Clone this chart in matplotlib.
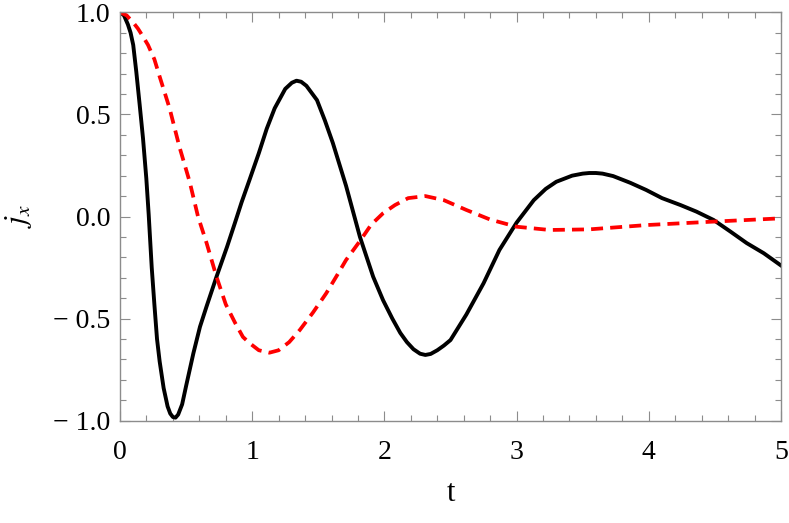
import matplotlib
matplotlib.use("Agg")
import matplotlib.pyplot as plt
from matplotlib.ticker import MultipleLocator, FuncFormatter

# black solid curve
t_black = [0, 0.03, 0.06, 0.08, 0.10, 0.123, 0.149, 0.174, 0.199, 0.217, 0.24, 0.26, 0.28,
           0.30, 0.33, 0.36, 0.38, 0.40, 0.42, 0.44, 0.47, 0.50, 0.555, 0.605, 0.655, 0.73,
           0.81, 0.87, 0.92, 0.98, 1.05, 1.11, 1.17, 1.25, 1.30, 1.335, 1.37, 1.41, 1.45,
           1.49, 1.55, 1.61, 1.71, 1.815, 1.915, 1.99, 2.06, 2.12, 2.17, 2.22, 2.27, 2.31,
           2.35, 2.40, 2.45, 2.5, 2.62, 2.75, 2.87, 3.0, 3.13, 3.22, 3.30, 3.42, 3.50, 3.55,
           3.60, 3.65, 3.73, 3.86, 3.98, 4.10, 4.24, 4.36, 4.49, 4.62, 4.74, 4.87, 5.0]
j_black = [1.0, 0.985, 0.94, 0.90, 0.84, 0.71, 0.546, 0.383, 0.187, 0.01, -0.25, -0.43, -0.60,
           -0.71, -0.84, -0.93, -0.965, -0.982, -0.985, -0.97, -0.92, -0.83, -0.67, -0.54,
           -0.44, -0.295, -0.148, -0.03, 0.07, 0.18, 0.31, 0.43, 0.53, 0.625, 0.655, 0.665,
           0.66, 0.64, 0.605, 0.57, 0.47, 0.36, 0.15, -0.10, -0.295, -0.41, -0.50, -0.57,
           -0.615, -0.65, -0.672, -0.678, -0.673, -0.655, -0.632, -0.605, -0.48, -0.327,
           -0.164, -0.03, 0.08, 0.135, 0.17, 0.20, 0.21, 0.213, 0.213, 0.21, 0.198, 0.165,
           0.13, 0.09, 0.056, 0.024, -0.017, -0.075, -0.13, -0.18, -0.24]

# red dashed curve
t_red = [0, 0.05, 0.10, 0.136, 0.175, 0.212, 0.26, 0.30, 0.375, 0.45, 0.527, 0.59, 0.655,
         0.73, 0.80, 0.87, 0.93, 0.98, 1.05, 1.13, 1.2, 1.28, 1.36, 1.46, 1.56, 1.64, 1.71,
         1.815, 1.9, 1.99, 2.08, 2.18, 2.31, 2.45, 2.62, 2.8, 3.0, 3.25, 3.55, 3.98, 4.49, 5.0]
j_red = [1.0, 0.985, 0.95, 0.92, 0.88, 0.84, 0.77, 0.685, 0.53, 0.34, 0.17, 0.0, -0.13,
         -0.295, -0.43, -0.52, -0.59, -0.62, -0.655, -0.667, -0.655, -0.615, -0.556, -0.47,
         -0.376, -0.29, -0.213, -0.12, -0.04, 0.016, 0.056, 0.09, 0.10, 0.08, 0.032, -0.015,
         -0.05, -0.066, -0.063, -0.042, -0.025, -0.009]

plt.rcParams['font.family'] = ['Liberation Serif', 'DejaVu Serif']
plt.rcParams['mathtext.fontset'] = 'stix'

fig = plt.figure(figsize=(7.89, 5.23), dpi=100)
ax = fig.add_axes([120 / 789, 1 - 420.7 / 523, 661 / 789, 408.4 / 523])

ax.plot(t_black, j_black, color='black', lw=2.8, solid_joinstyle='round')
ax.plot(t_red, j_red, color='red', lw=2.7, dashes=(3.2, 1.9), dash_capstyle='butt')

ax.set_xlim(0, 5)
ax.set_ylim(-1, 1)
ax.xaxis.set_major_locator(MultipleLocator(1))
ax.xaxis.set_minor_locator(MultipleLocator(0.2))
ax.yaxis.set_major_locator(MultipleLocator(0.5))
ax.yaxis.set_minor_locator(MultipleLocator(0.1))
ax.yaxis.set_major_formatter(FuncFormatter(
    lambda v, p: ('\u2212 ' + '%.1f' % abs(v)) if v < 0 else '%.1f' % v))

grey = '#8c8c8c'
for s in ax.spines.values():
    s.set_color(grey)
    s.set_linewidth(1.0)
ax.tick_params(which='both', direction='in', top=True, right=True, color=grey,
               labelsize=20, width=0.8)
ax.tick_params(which='major', length=7)
ax.tick_params(which='minor', length=4)
ax.tick_params(axis='x', which='major', pad=14)
ax.tick_params(axis='y', which='major', pad=7)

ax.set_xlabel('t', fontsize=22, labelpad=10)
ax.set_ylabel('$j_x$', fontsize=22, labelpad=14)

fig.savefig('out.png', dpi=100)
